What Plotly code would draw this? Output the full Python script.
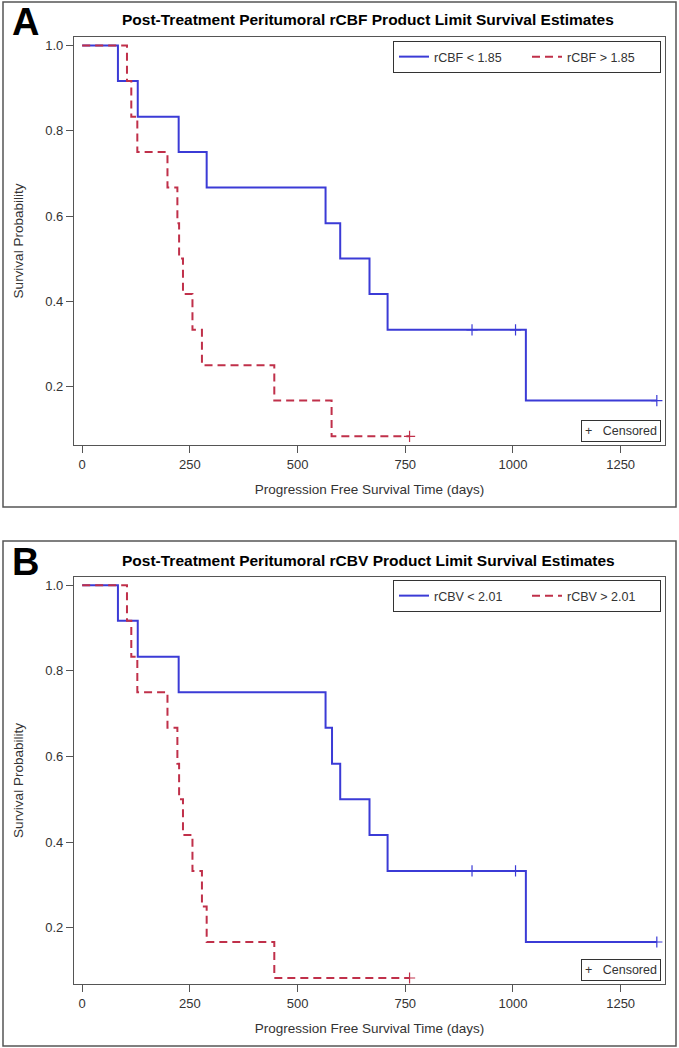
import plotly.graph_objects as go

# ---------------- data ----------------
# Panel A: rCBF
a_low_t = [0, 83, 129, 224, 289, 565, 599, 667, 709, 1030, 1334]
a_low_s = [1.0, 0.917, 0.833, 0.75, 0.667, 0.583, 0.5, 0.417, 0.333, 0.167, 0.167]
a_low_cens_t = [905, 1006, 1334]
a_low_cens_s = [0.333, 0.333, 0.167]

a_high_t = [0, 104, 114, 128, 198, 221, 225, 234, 256, 278, 446, 579, 760]
a_high_s = [1.0, 0.917, 0.833, 0.75, 0.667, 0.583, 0.5, 0.417, 0.333, 0.25, 0.167, 0.083, 0.083]
a_high_cens_t = [760]
a_high_cens_s = [0.083]

# Panel B: rCBV
b_low_t = [0, 83, 129, 224, 565, 580, 599, 667, 709, 1030, 1334]
b_low_s = [1.0, 0.917, 0.833, 0.75, 0.667, 0.583, 0.5, 0.417, 0.333, 0.167, 0.167]
b_low_cens_t = [905, 1006, 1334]
b_low_cens_s = [0.333, 0.333, 0.167]

b_high_t = [0, 104, 114, 128, 198, 221, 225, 234, 256, 278, 289, 446, 760]
b_high_s = [1.0, 0.917, 0.833, 0.75, 0.667, 0.583, 0.5, 0.417, 0.333, 0.25, 0.167, 0.083, 0.083]
b_high_cens_t = [760]
b_high_cens_s = [0.083]

x_ticks = [0, 250, 500, 750, 1000, 1250]
y_ticks = [0.2, 0.4, 0.6, 0.8, 1.0]

titles = ["Post-Treatment Peritumoral rCBF Product Limit Survival Estimates",
          "Post-Treatment Peritumoral rCBV Product Limit Survival Estimates"]
labels_a = ["rCBF < 1.85", "rCBF > 1.85"]
labels_b = ["rCBV < 2.01", "rCBV > 2.01"]

# ---------------- styling ----------------
W, H = 679, 1048
BLUE = "#3b3bd6"
RED = "#c0304a"
FONT = "Liberation Sans, Arial, sans-serif"
TXT = "#333333"

def px(x):
    return x / W

def py(y):
    return 1 - y / H

fig = go.Figure()

panels = [
    dict(xa="x", ya="y", legend="legend", lab=labels_a,
         low=(a_low_t, a_low_s, a_low_cens_t, a_low_cens_s),
         high=(a_high_t, a_high_s, a_high_cens_t, a_high_cens_s)),
    dict(xa="x2", ya="y2", legend="legend2", lab=labels_b,
         low=(b_low_t, b_low_s, b_low_cens_t, b_low_cens_s),
         high=(b_high_t, b_high_s, b_high_cens_t, b_high_cens_s)),
]

for p in panels:
    for (t, s, ct, cs), name, col, dash in [
        (p["low"], p["lab"][0], BLUE, "solid"),
        (p["high"], p["lab"][1], RED, "8px,5px"),
    ]:
        fig.add_trace(go.Scatter(
            x=t, y=s, mode="lines", line_shape="hv", name=name,
            line=dict(color=col, width=2, dash=dash),
            xaxis=p["xa"], yaxis=p["ya"], legend=p["legend"], showlegend=True))
        fig.add_trace(go.Scatter(
            x=ct, y=cs, mode="markers", showlegend=False,
            marker=dict(symbol="cross-thin", size=8, line=dict(color=col, width=1.2)),
            xaxis=p["xa"], yaxis=p["ya"]))

# geometry (pixels)
plot_l, plot_r = 74, 665
A_top, A_bot = 37, 445
B_top, B_bot = 577, 984

axis_common = dict(
    showline=True, linecolor="#555555", linewidth=1.2, mirror=True, automargin=False,
    ticks="outside", ticklen=7, tickcolor="#555555", showgrid=False, zeroline=False,
    tickfont=dict(family=FONT, size=13, color=TXT),
)
xtitle = dict(text="Progression Free Survival Time (days)",
              font=dict(family=FONT, size=13.5, color=TXT), standoff=13)
ytitle = dict(text="Survival Probability",
              font=dict(family=FONT, size=13.5, color=TXT), standoff=18)

legend_common = dict(orientation="h", x=px(661), xanchor="right", yanchor="top",
                     bordercolor="#333333", borderwidth=1, bgcolor="white",
                     font=dict(family=FONT, size=12.5, color=TXT),
                     entrywidth=88, entrywidthmode="pixels", tracegroupgap=0)

fig.update_layout(
    width=W, height=H, margin=dict(l=0, r=0, t=0, b=0),
    paper_bgcolor="white", plot_bgcolor="white",
    font=dict(family=FONT, color=TXT),
    xaxis=dict(domain=[px(plot_l), px(plot_r)], range=[-19, 1353], anchor="y",
               tickvals=x_ticks, title=xtitle, **axis_common),
    yaxis=dict(domain=[py(A_bot), py(A_top)], range=[0.0627, 1.02], anchor="x",
               tickvals=y_ticks, tickformat=".1f", title=ytitle, **axis_common),
    xaxis2=dict(domain=[px(plot_l), px(plot_r)], range=[-19, 1353], anchor="y2",
                tickvals=x_ticks, title=xtitle, **axis_common),
    yaxis2=dict(domain=[py(B_bot), py(B_top)], range=[0.069, 1.019], anchor="x2",
                tickvals=y_ticks, tickformat=".1f", title=ytitle, **axis_common),
    legend=dict(y=py(41), **legend_common),
    legend2=dict(y=py(580), **legend_common),
)

# panel frames
for y0, y1 in [(2, 507), (541, 1046)]:
    fig.add_shape(type="rect", xref="paper", yref="paper",
                  x0=px(3), x1=px(676), y0=py(y1), y1=py(y0),
                  line=dict(color="#555555", width=1.5), fillcolor="rgba(0,0,0,0)")

# titles and letters
for letter, title, ly, ty in [("A", titles[0], 22, 20), ("B", titles[1], 562, 560)]:
    fig.add_annotation(text=f"<b>{letter}</b>", xref="paper", yref="paper",
                       x=px(25), y=py(ly), xanchor="center", yanchor="middle",
                       showarrow=False, font=dict(family=FONT, size=38, color="black"))
    fig.add_annotation(text=f"<b>{title}</b>", xref="paper", yref="paper",
                       x=px(368), y=py(ty), xanchor="center", yanchor="middle",
                       showarrow=False, font=dict(family=FONT, size=15.5, color="black"))

# censored boxes
for yc in [431, 970]:
    fig.add_annotation(text="+   Censored", xref="paper", yref="paper",
                       x=px(661), y=py(yc), xanchor="right", yanchor="middle",
                       showarrow=False, bordercolor="#333333", borderwidth=1,
                       borderpad=3, bgcolor="white",
                       font=dict(family=FONT, size=12.5, color=TXT))

fig.write_html("out.html", config={"displayModeBar": False},
               post_script="document.body.style.margin='0';")
